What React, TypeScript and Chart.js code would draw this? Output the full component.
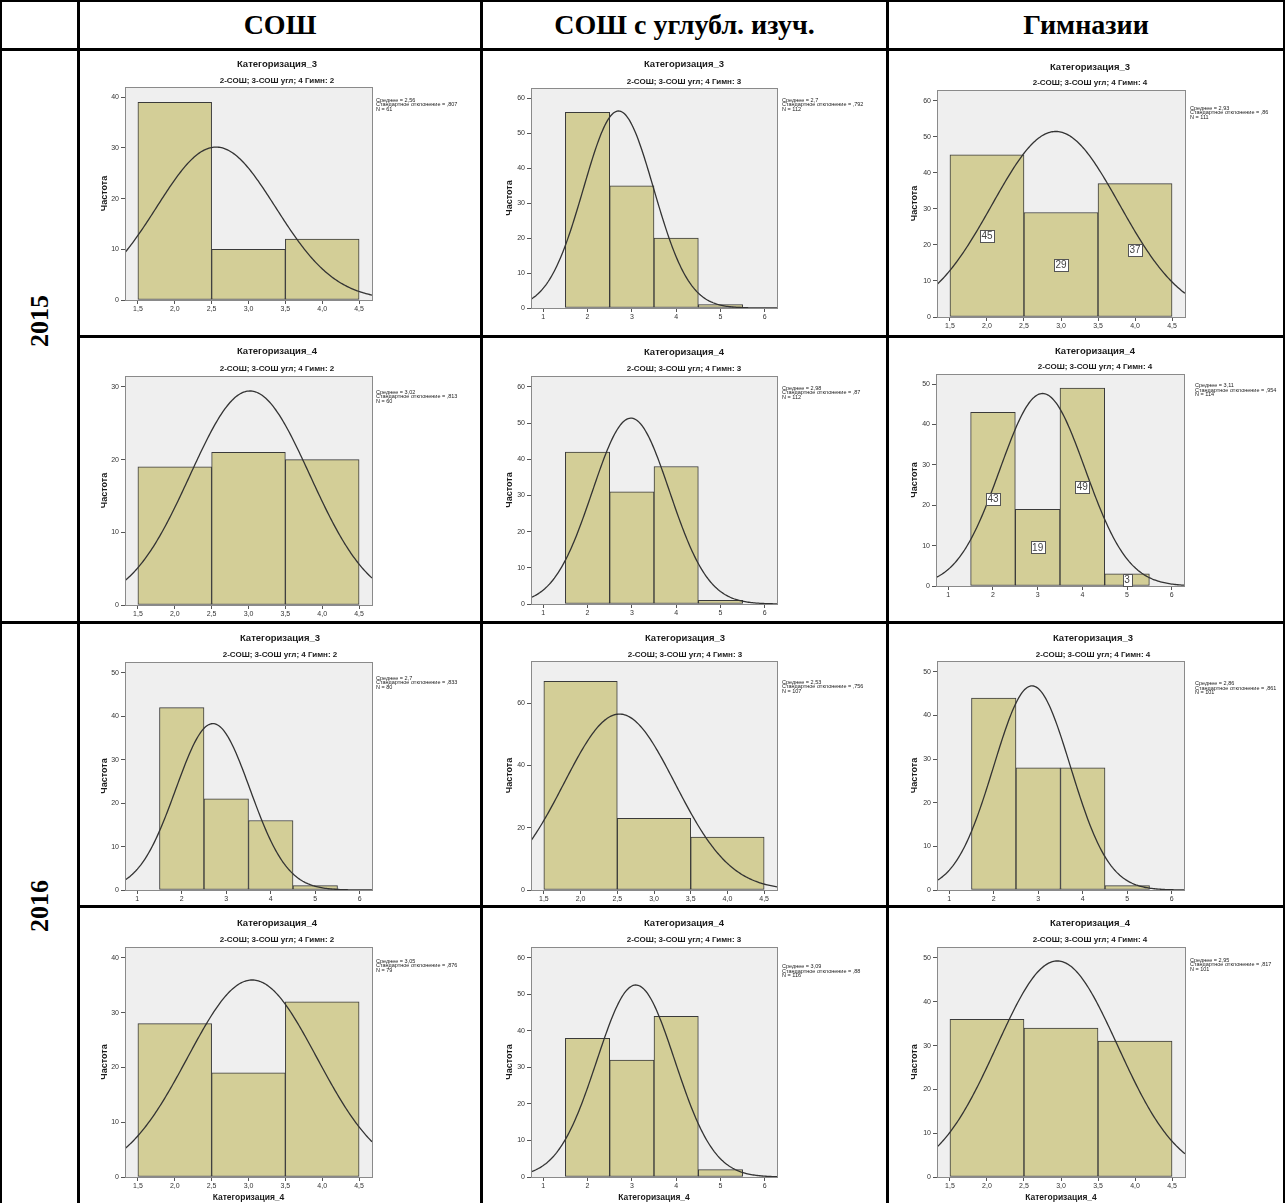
import React, { useEffect, useRef } from "react";
import { Chart, registerables } from "chart.js";

Chart.register(...registerables);

const FONT = '"Liberation Sans", Arial, sans-serif';
const SERIF = '"Liberation Serif", "Times New Roman", serif';

// ---------------- data ----------------
const YEARS = ["2015", "2016"];
const SCHOOL_TYPES = ["СОШ", "СОШ с углубл. изуч.", "Гимназии"];
const CATEGORY_TITLES = ["Категоризация_3", "Категоризация_4"];
const GROUP_SUBTITLES = [
  "2-СОШ; 3-СОШ угл; 4 Гимн: 2",
  "2-СОШ; 3-СОШ угл; 4 Гимн: 3",
  "2-СОШ; 3-СОШ угл; 4 Гимн: 4",
];
const Y_AXIS_TITLE = "Частота";
const X_AXIS_TITLE = "Категоризация_4";
const STAT_MEAN = "Среднее";
const STAT_SD = "Стандартное отклонение";

const BIN_CENTERS_3 = [2, 3, 4];
const BIN_CENTERS_4 = [2, 3, 4, 5];
const BIN_WIDTH = 1;

const sosh2015cat3 = [39, 10, 12];
const uglub2015cat3 = [56, 35, 20, 1];
const gimn2015cat3 = [45, 29, 37];
const sosh2015cat4 = [19, 21, 20];
const uglub2015cat4 = [42, 31, 38, 1];
const gimn2015cat4 = [43, 19, 49, 3];
const sosh2016cat3 = [42, 21, 16, 1];
const uglub2016cat3 = [67, 23, 17];
const gimn2016cat3 = [44, 28, 28, 1];
const sosh2016cat4 = [28, 19, 32];
const uglub2016cat4 = [38, 32, 44, 2];
const gimn2016cat4 = [36, 34, 31];

const PANEL_COUNTS = [
  sosh2015cat3, uglub2015cat3, gimn2015cat3,
  sosh2015cat4, uglub2015cat4, gimn2015cat4,
  sosh2016cat3, uglub2016cat3, gimn2016cat3,
  sosh2016cat4, uglub2016cat4, gimn2016cat4,
];

const MEANS = [2.56, 2.7, 2.93, 3.02, 2.98, 3.11, 2.7, 2.53, 2.86, 3.05, 3.09, 2.95];
const SDS = [0.807, 0.792, 0.86, 0.813, 0.87, 0.954, 0.833, 0.756, 0.861, 0.876, 0.88, 0.817];
const NS = [61, 112, 111, 60, 112, 114, 80, 107, 101, 79, 116, 101];

const Y_MAX = [42, 63, 63, 31.5, 63, 52.5, 52.5, 73.5, 52.5, 42, 63, 52.5];
const Y_STEP = [10, 10, 10, 10, 10, 10, 10, 20, 10, 10, 10, 10];
const LABELED = [false, false, true, false, false, true, false, false, false, false, false, false];

const X_TICKS_HALF = [1.5, 2.0, 2.5, 3.0, 3.5, 4.0, 4.5];
const X_TICKS_INT = [1, 2, 3, 4, 5, 6];
const X_RANGE_HALF = [1.325, 4.675];
const X_RANGE_INT = [0.725, 6.275];

// ---------------- layout (page px) ----------------
const COL_X = [80, 483, 889];
const COL_W = [400, 403, 394];
const ROW_Y = [51, 338, 624, 908];
const ROW_H = [284, 283, 281, 295];
const PLOT_BOX = [
  [125, 87, 372, 300], [531, 88, 777, 308], [937, 90, 1185, 317],
  [125, 376, 372, 605], [531, 376, 777, 604], [936, 374, 1184, 586],
  [125, 662, 372, 890], [531, 661, 777, 890], [937, 661, 1184, 890],
  [125, 947, 372, 1177], [531, 947, 777, 1177], [937, 947, 1185, 1177],
];
const TITLE_POS = [
  [277, 64, 81], [684, 64.7, 81.3], [1090, 67, 83],
  [277, 351.7, 368.3], [684, 352.3, 368.3], [1095, 351, 366.7],
  [280, 638, 654.7], [685, 638, 654.7], [1093, 638, 654.7],
  [277, 923.3, 940], [684, 923.3, 940], [1090, 923.3, 940],
];
const STATS_POS = [
  [376, 100], [782, 100.3], [1190, 108],
  [376, 392.3], [782, 388.3], [1195, 385.7],
  [376, 678], [782, 682], [1195, 683.7],
  [376, 961], [782, 966.7], [1190, 960],
];
const Y_TITLE_X = [104.5, 510, 915];
const X_TITLE_Y = 1197.5;

const BAR_FILL = "#d3ce97";
const BAR_EDGE = "#3a3a3a";
const PLOT_BG = "#efefef";
const PLOT_EDGE = "#8a8a8a";
const CURVE = "#333333";
const TEXT = "#1a1a1a";

if (typeof document !== "undefined") {
  document.body.style.margin = "0";
  document.body.style.overflow = "hidden";
}

function Panel({ idx }: { idx: number }) {
  const ref = useRef<HTMLCanvasElement>(null);
  const r = Math.floor(idx / 3);
  const c = idx % 3;
  const cx = COL_X[c];
  const cy = ROW_Y[r];
  const w = COL_W[c];
  const h = ROW_H[r];

  useEffect(() => {
    const canvas = ref.current;
    if (!canvas) return;
    const counts = PANEL_COUNTS[idx];
    const half = counts.length === 3;
    const centers = half ? BIN_CENTERS_3 : BIN_CENTERS_4;
    const [xmin, xmax] = half ? X_RANGE_HALF : X_RANGE_INT;
    const xticks = half ? X_TICKS_HALF : X_TICKS_INT;
    const [L, T, R, B] = PLOT_BOX[idx];
    const bottomRow = r === 3;

    const yTitleSize = 9;
    const yAxisLeft = Y_TITLE_X[c] - (yTitleSize * 1.2) / 2;
    const wy = L - yAxisLeft;
    const xTitleSize = 8.5;
    const hx = bottomRow ? X_TITLE_Y + (xTitleSize * 1.2) / 2 - B : 14;
    const padding = {
      left: yAxisLeft - cx,
      top: T - cy,
      right: cx + w - R,
      bottom: cy + h - B - hx,
    };

    const mean = MEANS[idx];
    const sd = SDS[idx];
    const n = NS[idx];
    // fitted normal curve from the mean, SD and N printed on the chart
    const curve: { x: number; y: number }[] = [];
    const steps = 200;
    for (let k = 0; k <= steps; k++) {
      const x = xmin + ((xmax - xmin) * k) / steps;
      const z = (x - mean) / sd;
      curve.push({ x, y: (n * BIN_WIDTH * Math.exp(-0.5 * z * z)) / (sd * Math.sqrt(2 * Math.PI)) });
    }

    const yTicks: number[] = [];
    for (let v = 0; v <= Y_MAX[idx] + 1e-9; v += Y_STEP[idx]) yTicks.push(v);

    const statsLines = [
      `${STAT_MEAN} = ${String(mean).replace(".", ",")}`,
      `${STAT_SD} = ${String(sd).replace(/^0\./, ",")}`,
      `N = ${n}`,
    ];

    const decor = {
      id: "panelDecor" + idx,
      beforeDraw(chart: any) {
        const { ctx, chartArea: a } = chart;
        ctx.save();
        ctx.fillStyle = "#ffffff";
        ctx.fillRect(0, 0, chart.width, chart.height);
        ctx.fillStyle = PLOT_BG;
        ctx.fillRect(a.left, a.top, a.right - a.left, a.bottom - a.top);
        ctx.restore();
      },
      afterDatasetsDraw(chart: any) {
        const { ctx, chartArea: a } = chart;
        ctx.save();
        ctx.strokeStyle = PLOT_EDGE;
        ctx.lineWidth = 1;
        ctx.strokeRect(Math.round(a.left) + 0.5, Math.round(a.top) + 0.5, Math.round(a.right - a.left), Math.round(a.bottom - a.top));
        if (LABELED[idx]) {
          const meta = chart.getDatasetMeta(1);
          ctx.font = `10px ${FONT}`;
          ctx.textAlign = "center";
          ctx.textBaseline = "middle";
          meta.data.forEach((el: any, i: number) => {
            const p = el.getProps(["x", "y", "base"], true);
            const tx = p.x;
            const ty = (p.y + p.base) / 2;
            const text = String(counts[i]);
            const tw = ctx.measureText(text).width;
            const bw = Math.round(tw + 3);
            const bh = 12;
            const bx = Math.round(tx - bw / 2) + 0.5;
            const by = Math.round(ty - bh / 2) + 0.5;
            ctx.fillStyle = "#ffffff";
            ctx.fillRect(bx, by, bw, bh);
            ctx.strokeStyle = "#555555";
            ctx.strokeRect(bx, by, bw, bh);
            ctx.fillStyle = "#444444";
            ctx.fillText(text, tx, ty + 0.5);
          });
        }
        ctx.restore();
      },
      afterDraw(chart: any) {
        const { ctx } = chart;
        const [tx, ty, sy] = TITLE_POS[idx];
        ctx.save();
        ctx.fillStyle = TEXT;
        ctx.textAlign = "center";
        ctx.textBaseline = "middle";
        ctx.font = `bold 9.5px ${FONT}`;
        ctx.fillText(CATEGORY_TITLES[r % 2], tx - cx, ty - cy);
        ctx.font = `bold 8px ${FONT}`;
        ctx.fillText(GROUP_SUBTITLES[c], tx - cx, sy - cy);
        const [sx, st] = STATS_POS[idx];
        ctx.textAlign = "left";
        ctx.font = `5.5px ${FONT}`;
        ctx.fillStyle = "#222222";
        statsLines.forEach((line, i) => ctx.fillText(line, sx - cx, st - cy + i * 4.5));
        ctx.restore();
      },
    };

    const chart = new Chart(canvas, {
      type: "bar",
      data: {
        datasets: [
          {
            type: "line",
            data: curve,
            xAxisID: "x",
            yAxisID: "y",
            borderColor: CURVE,
            borderWidth: 1.3,
            pointRadius: 0,
            fill: false,
            tension: 0,
            order: 0,
          } as any,
          {
            type: "bar",
            data: centers.map((cv, i) => ({ x: cv, y: counts[i] })),
            xAxisID: "xb",
            yAxisID: "y",
            backgroundColor: BAR_FILL,
            borderColor: BAR_EDGE,
            borderWidth: 1,
            borderSkipped: false,
            grouped: false,
            barPercentage: 1,
            categoryPercentage: 1,
            order: 1,
          } as any,
        ],
      },
      options: {
        animation: false,
        responsive: false,
        maintainAspectRatio: false,
        events: [],
        layout: { padding },
        plugins: {
          legend: { display: false },
          tooltip: { enabled: false },
          title: { display: false },
        },
        scales: {
          x: {
            type: "linear",
            position: "bottom",
            min: xmin,
            max: xmax,
            offset: false,
            border: { display: false },
            grid: { display: true, drawOnChartArea: false, drawTicks: true, tickLength: 4, color: "#555555", offset: false },
            ticks: {
              autoSkip: false,
              maxRotation: 0,
              padding: 1,
              color: "#333333",
              font: { family: FONT, size: 7 },
              callback: (v: any) => (half ? Number(v).toFixed(1).replace(".", ",") : String(v)),
            },
            title: {
              display: bottomRow,
              text: X_AXIS_TITLE,
              color: TEXT,
              font: { family: FONT, size: xTitleSize, weight: "bold" },
              padding: { top: 0, bottom: 0 },
            },
            afterBuildTicks: (s: any) => {
              s.ticks = xticks.map((v) => ({ value: v }));
            },
            afterFit: (s: any) => {
              s.height = hx;
              s.paddingLeft = 0;
              s.paddingRight = 0;
            },
          } as any,
          xb: {
            type: "linear",
            position: "bottom",
            display: false,
            min: xmin,
            max: xmax,
            offset: false,
            grid: { offset: false },
            afterBuildTicks: (s: any) => {
              s.ticks = centers.map((v) => ({ value: v }));
            },
          } as any,
          y: {
            type: "linear",
            position: "left",
            min: 0,
            max: Y_MAX[idx],
            border: { display: false },
            grid: { display: true, drawOnChartArea: false, drawTicks: true, tickLength: 4, color: "#555555" },
            ticks: {
              padding: 2,
              color: "#333333",
              font: { family: FONT, size: 7 },
              callback: (v: any) => String(v),
            },
            title: {
              display: true,
              text: Y_AXIS_TITLE,
              color: TEXT,
              font: { family: FONT, size: yTitleSize, weight: "bold" },
              padding: { top: 0, bottom: 0 },
            },
            afterBuildTicks: (s: any) => {
              s.ticks = yTicks.map((v) => ({ value: v }));
            },
            afterFit: (s: any) => {
              s.width = wy;
              s.paddingTop = 0;
              s.paddingBottom = 0;
            },
          } as any,
        },
      },
      plugins: [decor],
    });
    return () => chart.destroy();
  }, [idx]);

  return (
    <canvas
      ref={ref}
      width={w}
      height={h}
      style={{ position: "absolute", left: cx, top: cy, width: w, height: h }}
    />
  );
}

function Line({ x, y, w, h }: { x: number; y: number; w: number; h: number }) {
  return <div style={{ position: "absolute", left: x, top: y, width: w, height: h, background: "#000" }} />;
}

export default function App() {
  const headerCols = [
    [80, 400],
    [483, 403],
    [889, 394],
  ];
  return (
    <div style={{ position: "relative", width: 1285, height: 1203, background: "#fff", overflow: "hidden" }}>
      {PANEL_COUNTS.map((_, i) => (
        <Panel key={i} idx={i} />
      ))}
      {SCHOOL_TYPES.map((t, i) => (
        <div
          key={t}
          style={{
            position: "absolute",
            left: headerCols[i][0],
            top: 2,
            width: headerCols[i][1],
            height: 46,
            display: "flex",
            alignItems: "center",
            justifyContent: "center",
            font: `bold 28px ${SERIF}`,
            color: "#000",
            whiteSpace: "nowrap",
          }}
        >
          {t}
        </div>
      ))}
      {YEARS.map((y, i) => (
        <div
          key={y}
          style={{
            position: "absolute",
            left: 40,
            top: i === 0 ? 321 : 906,
            transform: "translate(-50%, -50%) rotate(-90deg)",
            font: `bold 26px ${SERIF}`,
            lineHeight: 1,
            color: "#000",
            whiteSpace: "nowrap",
          }}
        >
          {y}
        </div>
      ))}
      {/* table rules */}
      <Line x={0} y={0} w={1285} h={2} />
      <Line x={0} y={48} w={1285} h={3} />
      <Line x={77} y={335} w={1208} h={3} />
      <Line x={0} y={621} w={1285} h={3} />
      <Line x={77} y={905} w={1208} h={3} />
      <Line x={0} y={0} w={2} h={1203} />
      <Line x={77} y={0} w={3} h={1203} />
      <Line x={480} y={0} w={3} h={1203} />
      <Line x={886} y={0} w={3} h={1203} />
      <Line x={1283} y={0} w={2} h={1203} />
    </div>
  );
}
